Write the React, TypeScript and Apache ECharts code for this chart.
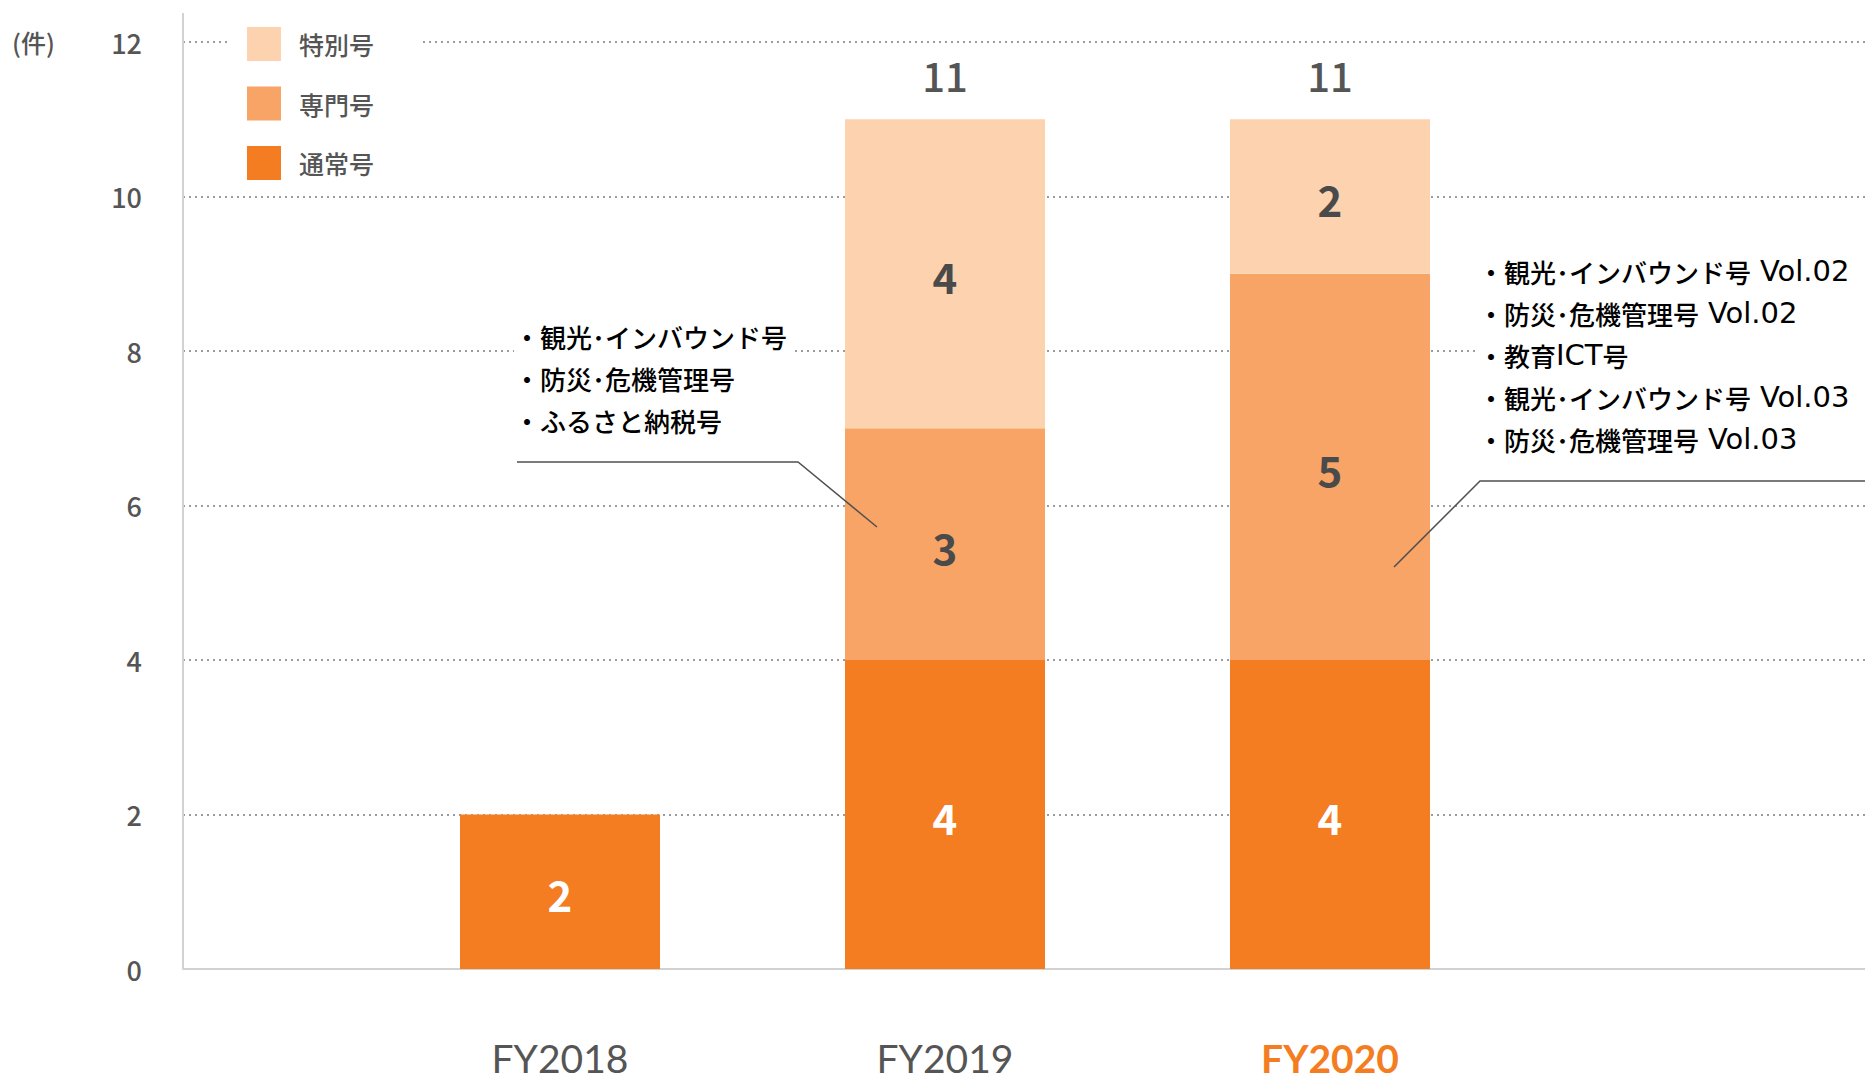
import React, { useEffect, useRef } from "react";
import * as echarts from "echarts";

const categories = ["FY2018", "FY2019", "FY2020"];
const regularIssues = [2, 4, 4]; // 通常号
const specialistIssues = [0, 3, 5]; // 専門号
const specialIssues = [0, 4, 2]; // 特別号
const seriesNames = ["通常号", "専門号", "特別号"];
const legendOrder = ["特別号", "専門号", "通常号"];
const highlightCategory = "FY2020";
const noteFY2019 = ["観光･インバウンド号", "防災･危機管理号", "ふるさと納税号"];
const noteFY2020 = [
  "観光･インバウンド号 Vol.02",
  "防災･危機管理号 Vol.02",
  "教育ICT号",
  "観光･インバウンド号 Vol.03",
  "防災･危機管理号 Vol.03",
];

const JP = '"Noto Sans CJK JP", "Noto Sans", sans-serif';
const LAT = 'Lato, "Noto Sans", sans-serif';
const WIDE = '"DejaVu Sans", sans-serif';
const GRAY = "#555555";
const COLORS = ["#f47d22", "#f7a466", "#fcd2af"];

// split a note line into Japanese / Latin rich-text runs
const toRich = (line: string) =>
  "{j|・}" +
  line
    .split(/([A-Za-z0-9.]+(?:\s*[A-Za-z0-9.]+)*)/)
    .filter((s) => s.length > 0)
    .map((s) => (/^[A-Za-z0-9.]/.test(s) ? `{l|${s}}` : s.endsWith(" ") ? `{j|${s.trimEnd()}}{sp| }` : `{j|${s}}`))
    .join("");

export default function App() {
  const ref = useRef<HTMLDivElement>(null);
  useEffect(() => {
    if (!ref.current) return;
    const chart = echarts.init(ref.current, undefined, { renderer: "svg" });
    const stacks = [regularIssues, specialistIssues, specialIssues];
    const totals = categories.map((_, i) => stacks.reduce((s, a) => s + a[i], 0));
    const segCount = categories.map((_, i) => stacks.filter((a) => a[i] > 0).length);

    const segLabel = (color: string) => ({
      show: true,
      position: "inside" as const,
      color,
      fontFamily: JP,
      fontSize: 42,
      fontWeight: "bold" as const,
      offset: [0, 2],
      formatter: (p: any) => (p.value ? String(p.value) : ""),
    });

    const richNote = {
      j: { fontFamily: JP, fontSize: 26, fontWeight: 500, color: GRAY, lineHeight: 42 },
      sp: { fontFamily: WIDE, fontSize: 28, color: GRAY, lineHeight: 42 },
      l: { fontFamily: WIDE, fontSize: 29, color: GRAY, lineHeight: 42 },
    };

    chart.setOption({
      animation: false,
      grid: [
        { left: 183, right: 0, top: 42, bottom: 112 },
        { left: 367.5, width: 1155, top: 42, bottom: 112 },
      ],
      xAxis: [
        {
          gridIndex: 0,
          type: "value",
          min: 0,
          max: 1,
          axisLabel: { show: false },
          axisTick: { show: false },
          splitLine: { show: false },
          axisLine: { show: true, lineStyle: { color: "#d2d2d2", width: 2 } },
        },
        {
          gridIndex: 1,
          type: "category",
          data: categories,
          axisLine: { show: false },
          axisTick: { show: false },
          axisLabel: {
            margin: 72,
            formatter: (v: string) => (v === highlightCategory ? `{hl|${v}}` : `{n|${v}}`),
            rich: {
              n: { fontFamily: LAT, fontSize: 39, color: GRAY, lineHeight: 34 },
              hl: { fontFamily: LAT, fontSize: 39, color: "#f47d22", fontWeight: "bold", lineHeight: 34 },
            },
          },
        },
      ],
      yAxis: [
        {
          gridIndex: 0,
          type: "value",
          min: 0,
          max: 12,
          interval: 2,
          axisLine: { show: false },
          axisTick: { show: false },
          axisLabel: { margin: 41, fontFamily: JP, fontSize: 27, color: GRAY, fontWeight: 500 },
          splitLine: { show: true, lineStyle: { type: [2, 4], color: "#9c9c9c", width: 2 } },
        },
        {
          gridIndex: 1,
          type: "value",
          min: 0,
          max: 12,
          interval: 2,
          axisLine: { show: false },
          axisTick: { show: false },
          axisLabel: { show: false },
          splitLine: { show: false },
        },
      ],
      legend: {
        orient: "vertical",
        left: 228,
        top: 22,
        data: legendOrder,
        itemWidth: 34,
        itemHeight: 34,
        itemGap: 25.5,
        icon: "rect",
        selectedMode: false,
        backgroundColor: "#ffffff",
        padding: [5, 45, 5, 19],
        textStyle: { fontFamily: JP, fontSize: 25, color: GRAY, fontWeight: 500, padding: [0, 0, 0, 13] },
      },
      series: [
        ...stacks.map((arr, k) => ({
          name: seriesNames[k],
          type: "bar",
          xAxisIndex: 1,
          yAxisIndex: 1,
          stack: "total",
          barWidth: 200,
          data: arr,
          itemStyle: { color: COLORS[k] },
          label: segLabel(k === 0 ? "#ffffff" : "#4a4a4a"),
        })),
        {
          name: "合計",
          type: "bar",
          xAxisIndex: 1,
          yAxisIndex: 1,
          stack: "total",
          barWidth: 200,
          data: categories.map(() => 0),
          itemStyle: { color: "transparent" },
          label: {
            show: true,
            position: "top",
            distance: 24,
            fontFamily: JP,
            fontSize: 40,
            color: GRAY,
            fontWeight: 500,
            formatter: (p: any) => (segCount[p.dataIndex] > 1 ? String(totals[p.dataIndex]) : ""),
          },
        },
      ],
      graphic: [
        {
          type: "line",
          z: 50,
          shape: { x1: 183, y1: 13, x2: 183, y2: 969 },
          style: { stroke: "#d2d2d2", lineWidth: 2 },
        },
        {
          type: "text",
          x: 12,
          y: 42,
          z: 50,
          style: {
            text: "(件)",
            font: `500 25px ${JP}`,
            fill: GRAY,
            verticalAlign: "middle",
          },
        },
        {
          type: "text",
          x: 514,
          y: 315,
          z: 100,
          style: {
            text: noteFY2019.map(toRich).join("\n"),
            rich: richNote,
            verticalAlign: "top",
            backgroundColor: "#ffffff",
            padding: [0, 8, 0, 0],
          },
        },
        {
          type: "polyline",
          z: 100,
          shape: { points: [[517, 462], [798, 462], [877, 527]] },
          style: { stroke: "#4f4f4f", lineWidth: 1.5, fill: "none" },
        },
        {
          type: "text",
          x: 1478,
          y: 250,
          z: 100,
          style: {
            text: noteFY2020.map(toRich).join("\n"),
            rich: richNote,
            verticalAlign: "top",
            backgroundColor: "#ffffff",
            padding: [0, 20, 0, 0],
          },
        },
        {
          type: "polyline",
          z: 100,
          shape: { points: [[1865, 481], [1480, 481], [1394, 567]] },
          style: { stroke: "#4f4f4f", lineWidth: 1.5, fill: "none" },
        },
      ],
    });
    return () => chart.dispose();
  }, []);
  return (
    <div
      ref={ref}
      style={{ position: "fixed", left: 0, top: 0, width: 1865, height: 1081, background: "#ffffff" }}
    />
  );
}
